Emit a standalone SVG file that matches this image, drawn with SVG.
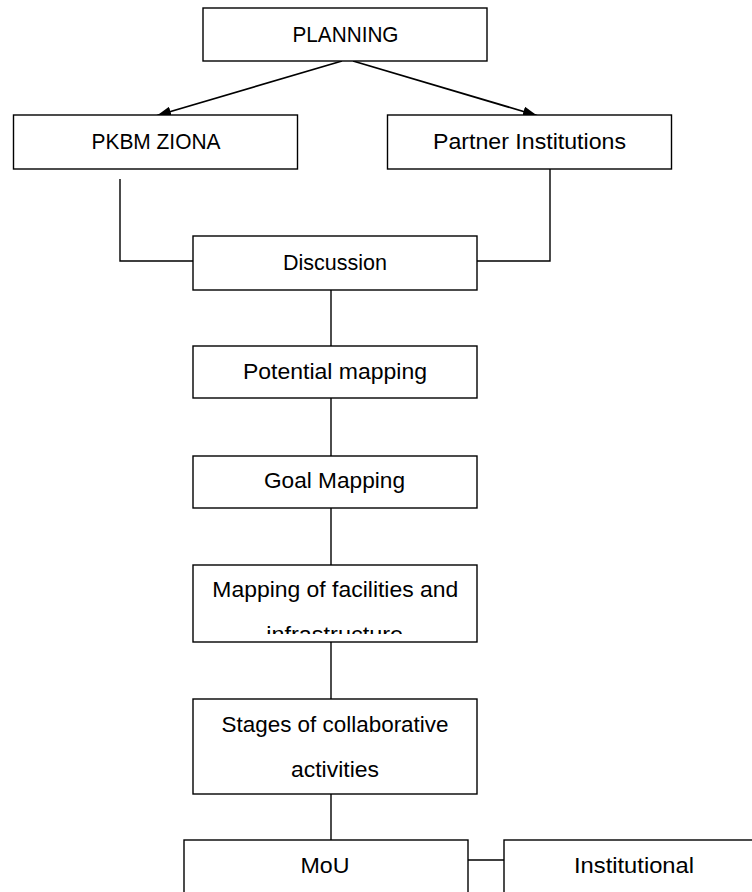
<svg xmlns="http://www.w3.org/2000/svg" width="752" height="892" viewBox="0 0 752 892">
<style>
.box{fill:#fff;stroke:#000;stroke-width:1.4}
.t{font-family:"Liberation Sans",Arial,sans-serif;font-size:22px;fill:#000;text-anchor:middle}
.ln{fill:none;stroke:#000;stroke-width:1.4}
</style>
<defs>
<marker id="ah" viewBox="0 0 10 10" refX="10" refY="5" markerWidth="14" markerHeight="10" markerUnits="userSpaceOnUse" orient="auto" preserveAspectRatio="none">
<path d="M0,0 L10,5 L0,10 z" fill="#000"/>
</marker>
<clipPath id="clipMap"><rect x="193" y="565" width="284" height="69"/></clipPath>
</defs>
<rect width="752" height="892" fill="#fff"/>
<g id="connectors">
<line class="ln" x1="342" y1="61" x2="157" y2="115.5" marker-end="url(#ah)" style="stroke-width:1.8"/>
<line class="ln" x1="353" y1="61" x2="537" y2="115.5" marker-end="url(#ah)" style="stroke-width:1.8"/>
<polyline class="ln" points="120,179 120,261 193,261"/>
<polyline class="ln" points="550,169 550,261 477,261"/>
<line class="ln" x1="331" y1="290" x2="331" y2="346"/>
<line class="ln" x1="331" y1="398" x2="331" y2="456"/>
<line class="ln" x1="331" y1="508" x2="331" y2="565"/>
<line class="ln" x1="331" y1="642" x2="331" y2="699"/>
<line class="ln" x1="331" y1="794" x2="331" y2="840"/>
<line class="ln" x1="468" y1="860" x2="504" y2="860"/>
</g>
<g id="planning">
<rect class="box" x="203" y="8" width="284" height="53"/>
<text class="t" x="345.5" y="41.7" textLength="106" lengthAdjust="spacingAndGlyphs">PLANNING</text>
</g>
<g id="pkbm">
<rect class="box" x="13.5" y="115" width="284" height="54"/>
<text class="t" x="156" y="149.3" textLength="129" lengthAdjust="spacingAndGlyphs">PKBM ZIONA</text>
</g>
<g id="partner">
<rect class="box" x="387.5" y="115" width="284" height="54"/>
<text class="t" x="529.5" y="149.3" textLength="193" lengthAdjust="spacingAndGlyphs">Partner Institutions</text>
</g>
<g id="discussion">
<rect class="box" x="193" y="236" width="284" height="54"/>
<text class="t" x="335" y="270" textLength="104" lengthAdjust="spacingAndGlyphs">Discussion</text>
</g>
<g id="potential">
<rect class="box" x="193" y="346" width="284" height="52"/>
<text class="t" x="335" y="379.3" textLength="184" lengthAdjust="spacingAndGlyphs">Potential mapping</text>
</g>
<g id="goal">
<rect class="box" x="193" y="456" width="284" height="52"/>
<text class="t" x="334.5" y="488" textLength="141" lengthAdjust="spacingAndGlyphs">Goal Mapping</text>
</g>
<g id="facilities">
<rect class="box" x="193" y="565" width="284" height="77"/>
<text class="t" x="335.3" y="597.3" textLength="246" lengthAdjust="spacingAndGlyphs">Mapping of facilities and</text>
<text class="t" x="334.7" y="642.3" textLength="137" lengthAdjust="spacingAndGlyphs" clip-path="url(#clipMap)">infrastructure</text>
</g>
<g id="stages">
<rect class="box" x="193" y="699" width="284" height="95"/>
<text class="t" x="335" y="731.7" textLength="227" lengthAdjust="spacingAndGlyphs">Stages of collaborative</text>
<text class="t" x="335" y="776.7" textLength="88" lengthAdjust="spacingAndGlyphs">activities</text>
</g>
<g id="mou">
<rect class="box" x="184" y="840" width="284" height="80"/>
<text class="t" x="325" y="873.3" textLength="49" lengthAdjust="spacingAndGlyphs">MoU</text>
</g>
<g id="institutional">
<rect class="box" x="504" y="840" width="284" height="80"/>
<text class="t" x="634" y="873.3" textLength="120" lengthAdjust="spacingAndGlyphs">Institutional</text>
</g>
</svg>
